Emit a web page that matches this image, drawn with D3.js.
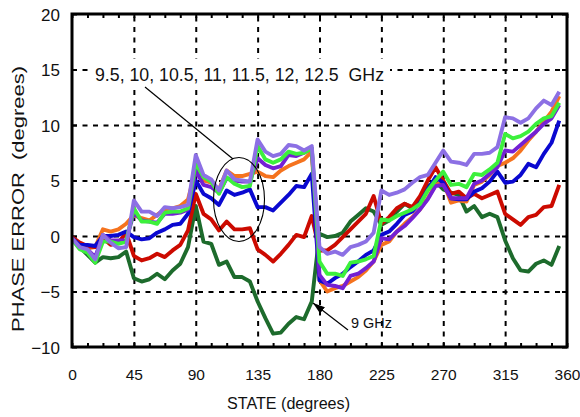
<!DOCTYPE html>
<html>
<head>
<meta charset="utf-8">
<script src="https://cdn.jsdelivr.net/npm/d3@7"></script>
<style>
  body { margin: 0; background: #fff; }
  text { font-family: "Liberation Sans", Arial, Helvetica, sans-serif; fill: #111; }
</style>
</head>
<body>
<div id="chart"></div>
<script>
// states: 64 phase states, 5.625 degree step
var stepDeg = 5.625;
var xTicks = [0, 45, 90, 135, 180, 225, 270, 315, 360];
var yTicks = [-10, -5, 0, 5, 10, 15, 20];

// phase error (degrees) per state
var err9 = [-0.2,-1.0,-1.7,-2.4,-1.9,-2.0,-1.9,-1.4,-3.8,-4.1,-3.9,-3.4,-3.9,-3.1,-2.5,-1.0,
  2.7,-0.5,-0.7,-2.6,-2.3,-3.7,-3.7,-4.1,-5.9,-7.4,-8.8,-8.7,-7.9,-7.3,-7.5,-5.9,
  0.2,-0.1,0.0,0.3,1.3,1.9,2.5,2.2,1.0,1.4,2.2,2.9,2.5,3.4,4.5,4.9,
  4.2,3.9,3.7,2.2,2.7,1.7,2.0,1.7,-0.4,-2.0,-3.1,-3.2,-2.5,-2.2,-2.6,-0.9];
var err95 = [-0.1,-0.6,-0.9,-1.0,-0.2,-0.8,-0.6,0.3,-1.8,-2.2,-2.0,-1.6,-1.9,-1.3,-0.8,0.5,
  3.8,2.0,1.5,0.5,1.3,0.6,0.6,0.7,-1.2,-1.7,-2.3,-1.6,-0.8,0.1,-0.1,1.8,
  -1.3,-1.3,-0.8,-0.1,0.6,1.3,2.0,3.6,1.1,1.7,2.5,2.9,2.6,3.6,5.0,6.2,
  5.0,3.8,4.0,3.4,3.8,3.4,3.7,4.0,2.0,1.5,1.0,1.7,1.9,2.6,2.7,4.6];
var err10 = [-0.2,-0.8,-0.8,-0.9,0.0,0.0,0.1,0.4,-0.1,-0.3,-0.2,0.3,0.6,1.0,1.1,2.0,
  5.0,3.8,3.4,2.8,4.1,3.7,3.9,4.2,2.6,2.6,2.3,3.0,3.7,4.5,4.4,5.6,
  -4.0,-4.3,-3.8,-3.4,-2.8,-2.3,-1.7,-1.3,0.1,0.4,1.1,1.9,2.2,3.0,4.2,5.3,
  4.8,3.4,3.3,3.3,4.0,4.3,4.9,5.8,4.8,4.9,5.5,6.5,6.2,7.4,8.4,10.4];
var err105 = [-0.2,-1.0,-1.1,-1.0,0.6,0.4,0.6,1.1,1.9,1.6,1.4,1.9,2.4,2.5,2.7,3.3,
  6.0,5.0,4.8,4.2,5.9,5.4,5.4,5.6,5.8,5.4,5.3,5.9,6.3,6.6,6.9,7.6,
  -4.0,-5.0,-4.7,-4.5,-4.1,-3.7,-3.1,-2.3,-0.8,-0.5,0.4,1.1,1.7,2.4,3.4,4.6,
  4.9,3.0,3.2,3.1,4.6,4.9,5.5,6.3,6.6,7.0,7.7,8.6,9.4,10.3,11.2,12.6];
var err115 = [-0.3,-1.2,-1.5,-2.4,-0.5,-0.5,-0.7,-0.5,2.5,1.3,1.3,1.1,2.1,2.2,2.2,2.5,
  6.6,5.3,4.9,3.8,5.3,4.7,4.4,4.5,8.1,6.9,6.6,6.9,7.6,7.4,7.5,7.9,
  -2.3,-3.4,-3.4,-3.6,-2.4,-2.3,-2.1,-1.8,1.5,1.4,1.8,2.1,2.4,2.9,4.1,5.0,
  5.8,4.6,4.7,4.4,5.6,5.5,6.0,6.6,9.2,8.8,9.0,9.4,10.1,10.6,10.8,12.0];
var err12 = [-0.2,-1.1,-1.2,-1.9,0.1,-0.4,-0.4,-0.4,2.1,1.4,1.3,1.2,2.0,2.0,2.1,2.4,
  5.9,4.6,4.4,3.9,5.2,5.0,4.9,4.9,7.0,6.4,6.1,6.3,7.3,7.2,7.5,7.9,
  -3.5,-4.4,-4.5,-4.7,-3.6,-3.4,-2.9,-2.3,-0.2,-0.3,0.4,0.9,1.6,2.4,3.3,4.5,
  4.6,3.4,3.4,3.4,4.7,5.0,5.6,6.2,7.7,7.6,8.2,8.8,9.4,10.1,10.6,11.8];
var err125 = [-0.2,-1.0,-1.2,-2.1,0.1,-0.6,-1.1,-1.0,3.2,2.2,2.2,1.8,2.6,2.5,2.6,2.8,
  7.3,5.5,5.1,4.1,5.9,5.1,5.0,4.9,8.7,7.6,7.2,7.4,8.2,8.1,7.7,8.1,
  -1.0,-1.6,-1.4,-1.7,-1.0,-0.8,-0.5,0.3,4.1,3.7,3.9,4.2,4.8,5.3,5.5,6.6,
  7.7,6.7,6.6,6.4,7.4,7.4,7.5,8.0,10.7,10.6,10.2,10.6,11.5,12.2,11.8,13.0];

var seriesNames = ["9", "10.5", "9.5", "10", "12", "11.5", "12.5"];
var seriesData = [err9, err105, err95, err10, err12, err115, err125];
var seriesColors = ["#1d6b2c", "#f5731e", "#cc0a00", "#0a08d0", "#7420d4", "#3cf03c", "#8c70e4"];

var svgWidth = 580;
var svgHeight = 417;
var margin = { top: 14, right: 13, bottom: 70, left: 72 };
var width = svgWidth - margin.left - margin.right;
var height = svgHeight - margin.top - margin.bottom;

var svg = d3.select("#chart").append("svg")
  .attr("width", svgWidth)
  .attr("height", svgHeight);

var chartGroup = svg.append("g")
  .attr("transform", `translate(${margin.left}, ${margin.top})`);

var xScale = d3.scaleLinear().domain([0, 360]).range([0, width]);
var yScale = d3.scaleLinear().domain([-10, 20]).range([height, 0]);

// dashed grid
chartGroup.append("g")
  .attr("class", "grid")
  .attr("transform", `translate(0, ${height})`)
  .call(d3.axisBottom(xScale).tickValues(xTicks.slice(1, -1)).tickSize(-height).tickFormat(""))
  .call(g => g.select(".domain").remove());
chartGroup.append("g")
  .attr("class", "grid")
  .call(d3.axisLeft(yScale).tickValues(yTicks.slice(1, -1)).tickSize(-width).tickFormat(""))
  .call(g => g.select(".domain").remove());
chartGroup.selectAll(".grid line")
  .attr("stroke", "#000")
  .attr("stroke-width", 2)
  .attr("stroke-dasharray", "5,5.5");

// white box behind the frequency label
chartGroup.append("rect")
  .attr("x", 92 - margin.left).attr("y", 59 - margin.top)
  .attr("width", 298).attr("height", 27)
  .attr("fill", "#fff");

// minor ticks on top / bottom, major on left / right
var minorX = d3.range(0, 361, 11.25);
chartGroup.append("g")
  .attr("transform", `translate(0, ${height})`)
  .call(d3.axisBottom(xScale).tickValues(minorX).tickSize(-4).tickFormat(""))
  .call(g => g.select(".domain").remove());
chartGroup.append("g")
  .call(d3.axisTop(xScale).tickValues(minorX).tickSize(-4).tickFormat(""))
  .call(g => g.select(".domain").remove());
chartGroup.append("g")
  .call(d3.axisLeft(yScale).tickValues(yTicks).tickSize(-5).tickFormat(""))
  .call(g => g.select(".domain").remove());
chartGroup.append("g")
  .attr("transform", `translate(${width}, 0)`)
  .call(d3.axisRight(yScale).tickValues(yTicks).tickSize(-5).tickFormat(""))
  .call(g => g.select(".domain").remove());
chartGroup.selectAll(".tick line").attr("stroke-width", 2);

// data lines
var line = d3.line()
  .x((d, i) => xScale(i * stepDeg))
  .y(d => yScale(d));

svg.append("clipPath").attr("id", "plotclip")
  .append("rect").attr("width", width).attr("height", height);

chartGroup.append("g")
  .attr("clip-path", "url(#plotclip)")
  .selectAll("path")
  .data(seriesData)
  .enter()
  .append("path")
  .attr("d", line)
  .attr("fill", "none")
  .attr("stroke", (d, i) => seriesColors[i])
  .attr("stroke-width", 3.9)
  .attr("stroke-linejoin", "round");

// frame
chartGroup.append("rect")
  .attr("width", width).attr("height", height)
  .attr("fill", "none").attr("stroke", "#000").attr("stroke-width", 3);

// tick labels
var xAxis = chartGroup.append("g")
  .attr("transform", `translate(0, ${height})`)
  .call(d3.axisBottom(xScale).tickValues(xTicks).tickSize(0));
xAxis.select(".domain").remove();
xAxis.selectAll("text")
  .attr("y", 33).attr("dy", 0)
  .attr("font-size", 15.5)
  .attr("font-family", "Liberation Sans, Arial, sans-serif")
  .attr("fill", "#111");

var yAxis = chartGroup.append("g")
  .call(d3.axisLeft(yScale).tickValues(yTicks).tickSize(0));
yAxis.select(".domain").remove();
yAxis.selectAll("text")
  .attr("x", -12).attr("dy", "0.36em")
  .attr("font-size", 17)
  .attr("font-family", "Liberation Sans, Arial, sans-serif")
  .attr("fill", "#111");

// axis titles
svg.append("text")
  .attr("transform", "translate(24, 199) rotate(-90)")
  .attr("text-anchor", "middle")
  .attr("font-size", 17)
  .attr("textLength", 266)
  .attr("lengthAdjust", "spacingAndGlyphs")
  .text("PHASE ERROR\u00a0 (degrees)");

svg.append("text")
  .attr("x", 288.5).attr("y", 409)
  .attr("text-anchor", "middle")
  .attr("font-size", 16)
  .attr("textLength", 123)
  .attr("lengthAdjust", "spacingAndGlyphs")
  .text("STATE (degrees)");

// annotations
svg.append("text")
  .attr("x", 95).attr("y", 81)
  .attr("font-size", 17.5)
  .attr("textLength", 289)
  .attr("lengthAdjust", "spacingAndGlyphs")
  .text("9.5, 10, 10.5, 11, 11.5, 12, 12.5\u00a0 GHz");

svg.append("line")
  .attr("x1", 145).attr("y1", 87).attr("x2", 233).attr("y2", 159)
  .attr("stroke", "#000").attr("stroke-width", 1.2);

svg.append("ellipse")
  .attr("cx", 239).attr("cy", 199.5).attr("rx", 25.5).attr("ry", 42)
  .attr("fill", "none").attr("stroke", "#000").attr("stroke-width", 1.1);

svg.append("defs").append("marker")
  .attr("id", "arrow")
  .attr("markerUnits", "userSpaceOnUse")
  .attr("markerWidth", 12).attr("markerHeight", 8)
  .attr("refX", 12).attr("refY", 4)
  .attr("orient", "auto")
  .append("path").attr("d", "M0,0 L12,4 L0,8 Z").attr("fill", "#000");

svg.append("line")
  .attr("x1", 348).attr("y1", 330).attr("x2", 313).attr("y2", 303)
  .attr("stroke", "#000").attr("stroke-width", 1.2)
  .attr("marker-end", "url(#arrow)");

svg.append("text")
  .attr("x", 351).attr("y", 328)
  .attr("font-size", 15)
  .attr("textLength", 41)
  .attr("lengthAdjust", "spacingAndGlyphs")
  .text("9 GHz");
</script>
</body>
</html>
